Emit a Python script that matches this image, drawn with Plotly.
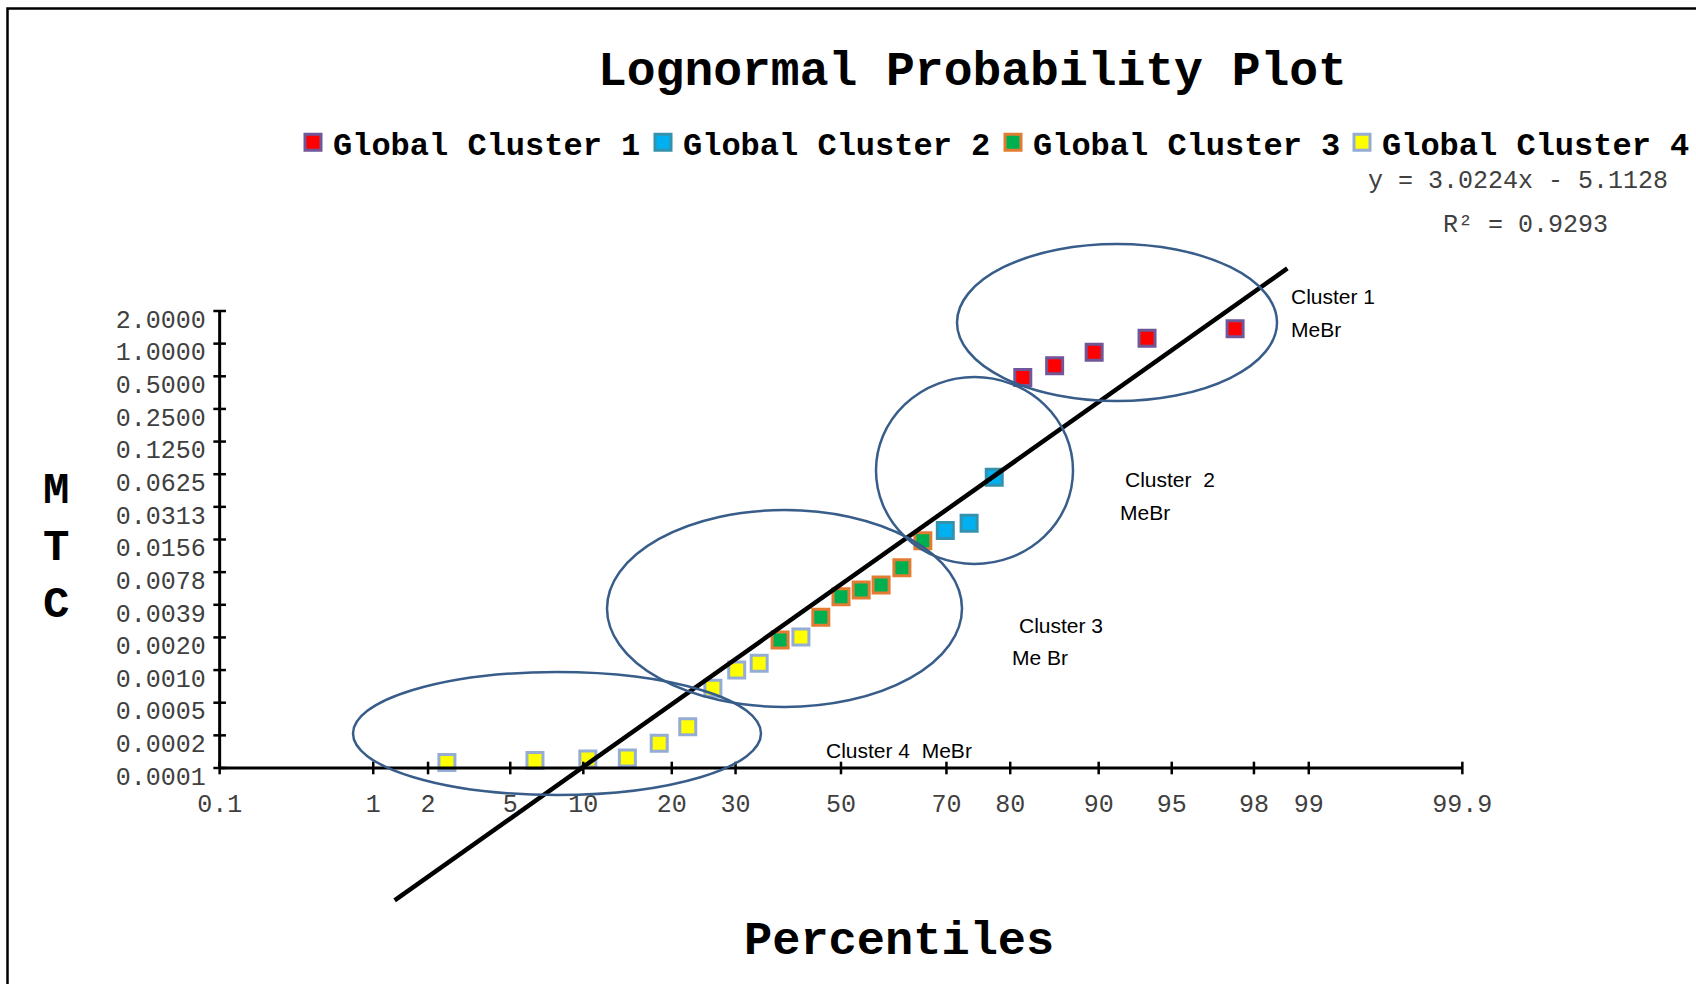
import math
from statistics import NormalDist
import plotly.graph_objects as go

# ---- data: cumulative plotting positions (%) and MTC values per cluster ----
c1_pct = [81.7, 85.6, 89.6, 93.6, 97.5]
c1_mtc = [0.486, 0.626, 0.833, 1.121, 1.375]
c2_pct = [69.8, 73.8, 77.7]
c2_mtc = [0.0189, 0.0221, 0.0586]
c3_pct = [38.1, 46.0, 50.0, 54.0, 57.9, 61.9, 65.8]
c3_mtc = [0.00185, 0.00300, 0.00464, 0.00535, 0.00595, 0.00859, 0.0152]
c4_pct = [2.5, 6.4, 10.4, 14.4, 18.3, 22.3, 26.2, 30.2, 34.2, 42.1]
c4_mtc = [0.000137, 0.000143, 0.000148, 0.000151, 0.000206, 0.000293,
          0.000663, 0.000978, 0.00113, 0.00197]

# fitted line: ln(MTC) = SLOPE * z + INTERCEPT
SLOPE = 3.0224
INTERCEPT = -5.1128
R2 = 0.9293
TREND_Z = [-2.22, 2.22]

# axis ticks
X_TICK_PCT = [0.1, 1, 2, 5, 10, 20, 30, 50, 70, 80, 90, 95, 98, 99, 99.9]
X_TICK_LABELS = ["0.1", "1", "2", "5", "10", "20", "30", "50", "70", "80",
                 "90", "95", "98", "99", "99.9"]
Y_TICK_EXP = list(range(-13, 2))
Y_TICK_LABELS = ["0.0001", "0.0002", "0.0005", "0.0010", "0.0020", "0.0039",
                 "0.0078", "0.0156", "0.0313", "0.0625", "0.1250", "0.2500",
                 "0.5000", "1.0000", "2.0000"]

# ---- geometry ----
W, H = 1696, 984
ML, MR, MT, MB = 188, 202, 200, 74
PW = W - ML - MR
PH = H - MT - MB
PX_PER_Z = 201.07
PX_Y_TOP_TICK, PX_Y_BASE = 311, 768
PX_PER_LOG2 = (PX_Y_BASE - PX_Y_TOP_TICK) / 14.0
L2 = math.log10(2)

nd = NormalDist()


def zq(pct):
    return nd.inv_cdf(pct / 100.0)


half = (PW / 2) / PX_PER_Z
x_range = [-half, half]
top_log2 = 1 + (PX_Y_TOP_TICK - MT) / PX_PER_LOG2
bot_log2 = -13 - (MT + PH - PX_Y_BASE) / PX_PER_LOG2
y_range = [bot_log2 * L2, top_log2 * L2]


def px_x(px):
    return (px - ML) / PW


def px_y(py):
    return (MT + PH - py) / PH


x_ticks = [zq(p) for p in X_TICK_PCT]
y_ticks = [2.0 ** k for k in Y_TICK_EXP]
x_lo, x_hi = x_ticks[0], x_ticks[-1]
y_base, y_top = y_ticks[0], y_ticks[-1]

MONO = "Liberation Mono"
SANS = "Liberation Sans"
TXT = "#404040"

fig = go.Figure()

# one legend box per series, laid out in a single row
series = [
    ("Global Cluster 1", c1_pct, c1_mtc, "#FF0000", "#70579A", "legend", 333),
    ("Global Cluster 2", c2_pct, c2_mtc, "#00B0F0", "#3592AF", "legend2", 683),
    ("Global Cluster 3", c3_pct, c3_mtc, "#00B050", "#E37C32", "legend3", 1033),
    ("Global Cluster 4", c4_pct, c4_mtc, "#FFFF00", "#95ACD4", "legend4", 1382),
]
for name, pct, mtc, fill, edge, lg, _ in series:
    fig.add_trace(go.Scatter(
        x=[zq(p) for p in pct], y=mtc, mode="markers", name=name, legend=lg,
        marker=dict(symbol="square", size=16, color=fill,
                    line=dict(color=edge, width=3)),
        cliponaxis=False,
    ))

# fitted trend line
fig.add_trace(go.Scatter(
    x=TREND_Z, y=[math.exp(SLOPE * z + INTERCEPT) for z in TREND_Z],
    mode="lines", line=dict(color="black", width=4.5), showlegend=False,
    hoverinfo="skip",
))

# axis lines with cross ticks
fig.add_trace(go.Scatter(
    x=[x_lo, x_hi], y=[y_base, y_base], mode="lines",
    line=dict(color="black", width=3), showlegend=False, hoverinfo="skip"))
fig.add_trace(go.Scatter(
    x=[x_lo, x_lo], y=[y_base, y_top], mode="lines",
    line=dict(color="black", width=3), showlegend=False, hoverinfo="skip"))
fig.add_trace(go.Scatter(
    x=x_ticks, y=[y_base] * len(x_ticks), mode="markers",
    marker=dict(symbol="line-ns", size=9, line=dict(color="black", width=2.5)),
    showlegend=False, hoverinfo="skip", cliponaxis=False))
fig.add_trace(go.Scatter(
    x=[x_lo] * len(y_ticks), y=y_ticks, mode="markers",
    marker=dict(symbol="line-ew", size=9, line=dict(color="black", width=2.5)),
    showlegend=False, hoverinfo="skip", cliponaxis=False))

x_pos = (math.log10(y_base) - y_range[0]) / (y_range[1] - y_range[0])
y_pos = (x_lo - x_range[0]) / (x_range[1] - x_range[0])

legend_font = dict(family=MONO, size=32, color="black", weight="bold")
legends = {}
for _, _, _, _, _, lg, text_x in series:
    legends[lg] = dict(orientation="h", xref="container", yref="container",
                       x=(text_x - 40) / W, y=1 - 115 / H,
                       xanchor="left", yanchor="top", font=legend_font,
                       bgcolor="rgba(0,0,0,0)", itemclick=False)

fig.update_layout(
    width=W, height=H,
    margin=dict(l=ML, r=MR, t=MT, b=MB, pad=0, autoexpand=False),
    paper_bgcolor="white", plot_bgcolor="rgba(0,0,0,0)",
    xaxis=dict(range=x_range, anchor="free", position=x_pos,
               showgrid=False, zeroline=False, showline=False, ticks="",
               tickmode="array", tickvals=x_ticks, ticktext=X_TICK_LABELS,
               tickfont=dict(family=MONO, size=25, color=TXT),
               ticklabelstandoff=18),
    yaxis=dict(type="log", range=y_range, anchor="free", position=y_pos,
               showgrid=False, zeroline=False, showline=False, ticks="",
               tickmode="array", tickvals=y_ticks, ticktext=Y_TICK_LABELS,
               tickfont=dict(family=MONO, size=25, color=TXT),
               ticklabelstandoff=14, ticklabelshift=8),
    showlegend=True,
    **legends,
)

# cluster outlines
ELLIPSE = "#385D8A"
for (x0, x1, y0, y1) in [(957, 1277, 244, 401), (876, 1073, 377, 564),
                         (607, 962, 510, 707), (353, 761, 672, 795)]:
    fig.add_shape(type="circle", xref="paper", yref="paper",
                  x0=px_x(x0), x1=px_x(x1), y0=px_y(y1), y1=px_y(y0),
                  line=dict(color=ELLIPSE, width=2.5), layer="above")

# outer frame
fig.add_shape(type="rect", xref="paper", yref="paper",
              x0=px_x(7.5), x1=px_x(W + 20), y0=px_y(H + 20), y1=px_y(8.6),
              line=dict(color="black", width=2.5))


def note(text, px, py, size, family, xanchor="left", bold=False, color="black"):
    fig.add_annotation(text=text, xref="paper", yref="paper",
                       x=px_x(px), y=px_y(py), xanchor=xanchor, yanchor="middle",
                       showarrow=False,
                       font=dict(family=family, size=size, color=color,
                                 weight="bold" if bold else "normal"))


note("Lognormal Probability Plot", 972, 72, 48, MONO, "center", True)
note("Percentiles", 899, 941, 47, MONO, "center", True)
note("M<br>T<br>C", 56, 548, 44, MONO, "center", True)
note(f"y = {SLOPE}x - {abs(INTERCEPT)}", 1518, 181, 25, MONO, "center", color=TXT)
note(f"R² = {R2}", 1525, 226, 25, MONO, "center", color=TXT)

note("Cluster 1", 1289, 296, 21, SANS)
note("MeBr", 1289, 329, 21, SANS)
note("Cluster\u00a0 2", 1123, 479, 21, SANS)
note("MeBr", 1118, 512, 21, SANS)
note("Cluster 3", 1017, 625, 21, SANS)
note("Me Br", 1010, 657, 21, SANS)
note("Cluster 4\u00a0 MeBr", 824, 750, 21, SANS)

fig.write_html("out.html")
